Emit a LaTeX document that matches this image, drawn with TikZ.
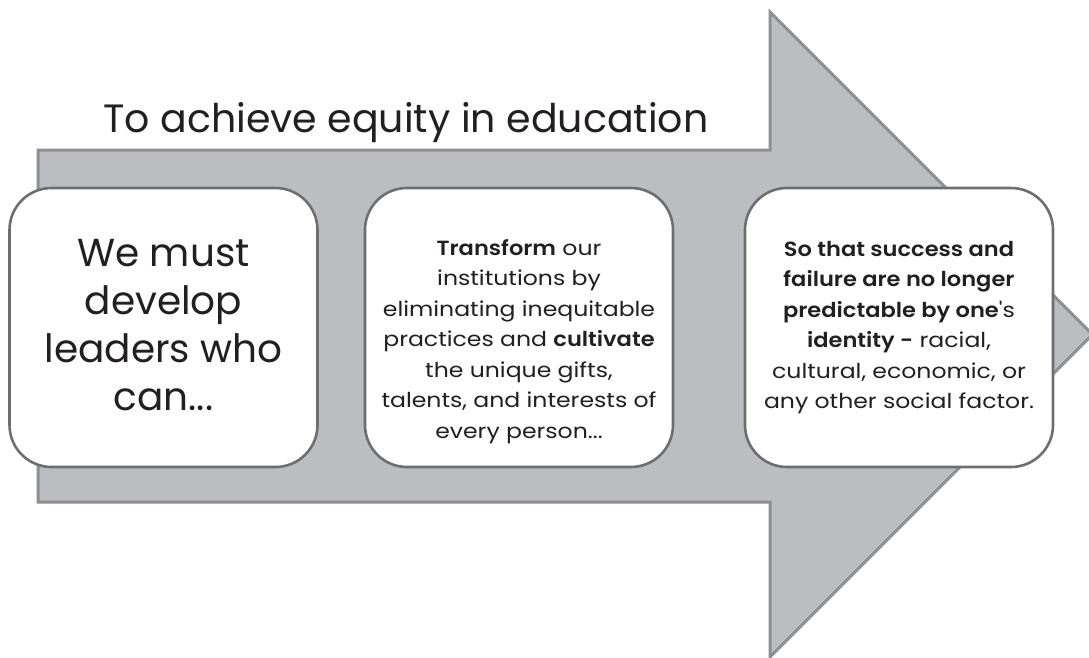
\documentclass[tikz,border=0pt]{standalone}
\usepackage{fontspec}
\IfFontExistsTF{Poppins SemiBold}{%
  \setmainfont{Poppins}[BoldFont={Poppins SemiBold}]
  \newfontfamily\cardfont{Poppins}[FakeStretch=1.15,BoldFont={Poppins SemiBold},BoldFeatures={FakeStretch=1.1}]
}{%
  \setmainfont{Poppins}[BoldFont={Poppins Medium}]
  \newfontfamily\cardfont{Poppins}[FakeStretch=1.15,BoldFont={Poppins Medium},BoldFeatures={FakeStretch=1.12}]
}
\usetikzlibrary{calc}
\definecolor{arrowfill}{HTML}{BCBDC0}
\definecolor{arrowline}{HTML}{8E8F92}
\definecolor{boxline}{HTML}{6D6E71}
\definecolor{ink}{HTML}{231F20}
\tikzset{
  bigarrow/.style={fill=arrowfill,draw=arrowline,line width=3pt,line join=miter},
  card/.style={draw=boxline,fill=white,line width=2.6pt,rounded corners=42pt,
    minimum width=308pt,minimum height=279pt,inner sep=0pt},
  cardtext/.style={align=center,text=ink,inner sep=0pt},
}
\begin{document}
\begin{tikzpicture}[x=1pt,y=-1pt]
\useasboundingbox (0,0) rectangle (1089,658);
\draw[bigarrow] (38,150) -- (770,150) -- (770,12) -- (1092.5,334.5) -- (770,657) -- (770,502) -- (38,502) -- cycle;
\node[cardtext,anchor=base west,font=\fontsize{39.5}{44}\selectfont] (title) at (103,132) {To achieve equity in education};
\node[card] (c1) at (163.5,327.5) {};
\node[card] (c2) at (519,327.5) {};
\node[card] (c3) at (899,327.5) {};
\node[cardtext,font=\fontsize{39}{48}\selectfont,yshift=2pt] (t1) at (c1) {We must\\develop\\leaders who\\can...};
\node[cardtext,font=\cardfont\fontsize{20.5}{30.5}\selectfont,yshift=-14pt] (t2) at (c2) {\textbf{Transform} our\\institutions by\\eliminating inequitable\\practices and \textbf{cultivate}\\the unique gifts,\\talents, and interests of\\every person...};
\node[cardtext,font=\cardfont\fontsize{20.5}{30.5}\selectfont,yshift=0pt] (t3) at (c3) {\textbf{So that success and}\\\textbf{failure are no longer}\\\textbf{predictable by one}'s\\\textbf{identity -} racial,\\cultural, economic, or\\any other social factor.};
\end{tikzpicture}
\end{document}
